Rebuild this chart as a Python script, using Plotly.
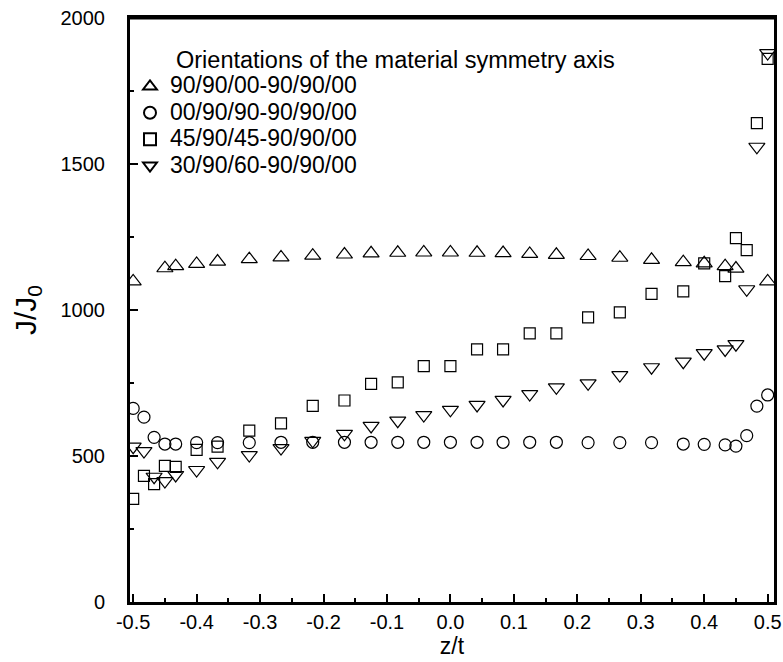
import plotly.graph_objects as go

# ---- data ----
z_all = [-0.5, -0.483, -0.467, -0.45, -0.433, -0.4, -0.367, -0.317, -0.267, -0.217,
         -0.167, -0.125, -0.083, -0.042, 0.0, 0.042, 0.083, 0.125, 0.167, 0.217,
         0.267, 0.317, 0.367, 0.4, 0.433, 0.45, 0.467, 0.483, 0.5]

z_tri = [-0.5, -0.45, -0.433, -0.4, -0.367, -0.317, -0.267, -0.217, -0.167, -0.125,
         -0.083, -0.042, 0.0, 0.042, 0.083, 0.125, 0.167, 0.217, 0.267, 0.317,
         0.367, 0.4, 0.433, 0.45, 0.5]
j_90_90_00 = [1098, 1143, 1150, 1158, 1166, 1174, 1180, 1186, 1190, 1194,
              1196, 1197, 1197, 1196, 1195, 1192, 1189, 1185, 1179, 1172,
              1164, 1160, 1150, 1142, 1098]

j_00_90_90 = [663, 633, 564, 541, 541, 546, 546, 546, 547, 547,
              547, 547, 547, 547, 547, 547, 547, 547, 547, 546,
              546, 546, 541, 540, 538, 534, 570, 671, 709]

j_45_90_45 = [353, 432, 404, 466, 463, 521, 532, 587, 612, 672,
              690, 747, 752, 808, 808, 865, 865, 920, 920, 975,
              992, 1055, 1064, 1160, 1116, 1246, 1205, 1640, 1860]

j_30_90_60 = [532, 517, 429, 414, 435, 452, 480, 503, 527, 552,
              576, 603, 621, 640, 658, 675, 692, 712, 735, 749,
              777, 804, 823, 852, 865, 883, 1071, 1559, 1880]

names = ["90/90/00-90/90/00", "00/90/90-90/90/00", "45/90/45-90/90/00", "30/90/60-90/90/00"]
legend_title = "Orientations of the material symmetry axis"
x_ticks = [-0.5, -0.4, -0.3, -0.2, -0.1, 0.0, 0.1, 0.2, 0.3, 0.4, 0.5]
x_tick_text = ["-0.5", "-0.4", "-0.3", "-0.2", "-0.1", "0.0", "0.1", "0.2", "0.3", "0.4", "0.5"]
y_ticks = [0, 500, 1000, 1500, 2000]

FONT = "Liberation Sans, Arial, sans-serif"

fig = go.Figure()
series = [
    (z_tri, j_90_90_00, "triangle-up-open", 14),
    (z_all, j_00_90_90, "circle-open", 12),
    (z_all, j_45_90_45, "square-open", 11),
    (z_all, j_30_90_60, "triangle-down-open", 14),
]
for (xs, ys, sym, sz), nm in zip(series, names):
    fig.add_trace(go.Scatter(
        x=xs, y=ys, mode="markers",
        name='<span style="font-size:23px">' + nm + '</span>',
        marker=dict(symbol=sym, size=sz, color="black", line=dict(color="black", width=1.2)),
    ))

axis_common = dict(
    showline=True, linewidth=3, linecolor="black", mirror=True,
    ticks="inside", ticklen=8, tickwidth=2, tickcolor="black",
    showgrid=False, zeroline=False, automargin=False, ticklabeloverflow="allow",
    tickfont=dict(family=FONT, size=20, color="black"),
)

fig.update_xaxes(
    range=[-0.505, 0.51], tickvals=x_ticks, ticktext=x_tick_text,
    minor=dict(dtick=0.05, tick0=-0.5, ticks="inside", ticklen=4, tickwidth=2, tickcolor="black"),
    title=dict(text="z/t", font=dict(family=FONT, size=23, color="black"), standoff=4),
    **axis_common,
)
fig.update_yaxes(
    range=[0, 2000], tickvals=y_ticks, ticklabelstandoff=18,
    minor=dict(dtick=250, tick0=0, ticks="inside", ticklen=4, tickwidth=2, tickcolor="black"),
    title=dict(text="J/J<sub>0</sub>", font=dict(family=FONT, size=30, color="black"), standoff=16),
    **axis_common,
)

# top edge of the frame
fig.add_shape(type="line", xref="paper", yref="paper", x0=-0.002, x1=1.002, y0=1, y1=1,
              line=dict(color="black", width=3), layer="above")

fig.add_annotation(
    text=legend_title, xref="paper", yref="paper", x=0.068, y=0.928,
    xanchor="left", yanchor="middle", showarrow=False,
    font=dict(family=FONT, size=23.5, color="black"),
)

fig.update_layout(
    width=783, height=662,
    margin=dict(l=130, r=9, t=18, b=60),
    paper_bgcolor="white", plot_bgcolor="white",
    showlegend=True,
    legend=dict(x=0.0, y=0.914, xanchor="left", yanchor="top",
                bgcolor="rgba(0,0,0,0)", font=dict(family=FONT, size=18, color="black"),
                tracegroupgap=0, itemsizing="constant"),
)

# remove the browser's default 8px body margin so the figure fills the window
fig.write_html("out.html",
               config={"displayModeBar": False},
               post_script="document.body.style.margin='0';document.body.style.overflow='hidden';")
